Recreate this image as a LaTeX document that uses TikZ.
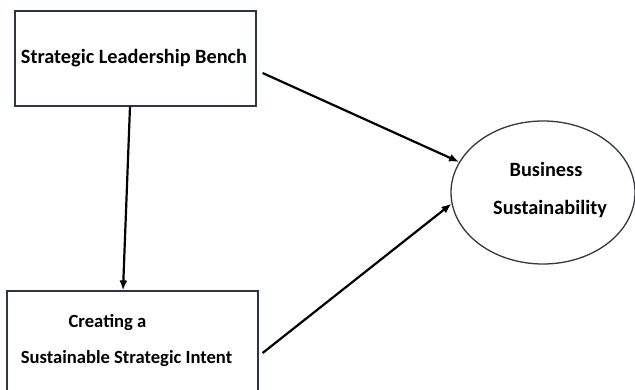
\documentclass[tikz,border=0pt]{standalone}
\usepackage{fontspec}
\setmainfont{Carlito}
\usetikzlibrary{arrows.meta,shapes.geometric}
\definecolor{boxcol}{HTML}{2B3646}
\definecolor{ellcol}{HTML}{33393F}
\begin{document}
\begin{tikzpicture}[x=1pt,y=-1pt,
  boxc/.style={draw=boxcol,line width=1.2pt,rectangle,inner sep=0pt},
  lbl/.style={font=\bfseries\fontsize{20.3}{24}\selectfont,inner sep=0pt,anchor=base},
  lbls/.style={lbl,font=\bfseries\fontsize{18.6}{22}\selectfont},
  arr/.style={line width=2.2pt,-{Latex[length=10pt,width=8pt]}}
]
\useasboundingbox (0,0) rectangle (635,390);
\fill[white] (0,0) rectangle (635,390);
\node[boxc,minimum width=241pt,minimum height=95pt] (slb) at (135.5,58.5) {};
\node[boxc,minimum width=251pt,minimum height=101pt] (csi) at (132.5,341.5) {};
\node[draw=ellcol,line width=1.3pt,ellipse,minimum width=184pt,minimum height=143pt,inner sep=0pt] (bs) at (543,192.5) {};
\node[lbl] (t1) at (134,64) {Strategic Leadership Bench};
\node[lbls] (t2) at (107.5,327) {Creating a};
\node[lbls] (t3) at (126.5,363) {Sustainable Strategic Intent};
\node[lbl] (t4) at (546,177) {Business};
\node[lbl] (t5) at (550,215) {Sustainability};
\draw[arr] ([xshift=6pt,yshift=-14.5pt]slb.east) -- (bs.160);
\draw[arr] ([xshift=4pt,yshift=-11.5pt]csi.east) -- (bs.187);
\draw[arr] ([xshift=-5.5pt]slb.south) -- ([xshift=-9.5pt]csi.north);
\end{tikzpicture}
\end{document}
